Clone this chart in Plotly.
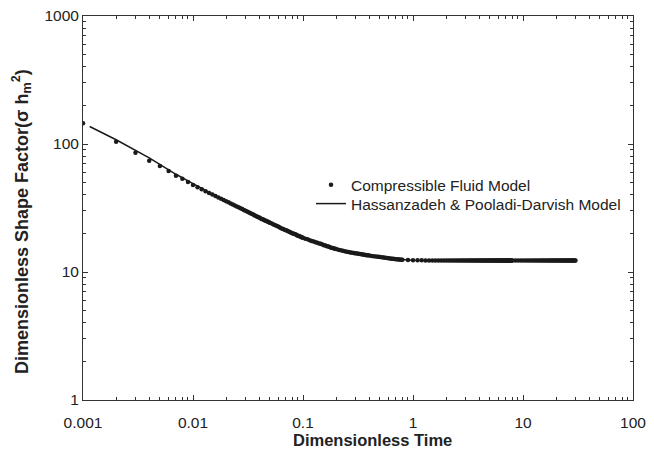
import plotly.graph_objects as go

# ---- data ----
dot_t = [
    0.001, 0.002, 0.003, 0.004, 0.005, 0.006, 0.007, 0.008, 0.009, 0.010,
    0.011, 0.012, 0.013, 0.014, 0.015, 0.016, 0.017, 0.018, 0.019, 0.020,
    0.021, 0.022, 0.023, 0.024, 0.025, 0.026, 0.027, 0.028, 0.029, 0.030,
    0.031, 0.032, 0.033, 0.034, 0.035, 0.036, 0.037, 0.038, 0.039, 0.040,
    0.041, 0.042, 0.043, 0.044, 0.045, 0.046, 0.047, 0.048, 0.049, 0.050,
    0.052, 0.054, 0.056, 0.058, 0.060, 0.062, 0.064, 0.066, 0.068, 0.070,
    0.072, 0.074, 0.076, 0.078, 0.080, 0.082, 0.084, 0.086, 0.088, 0.090,
    0.092, 0.094, 0.096, 0.098, 0.100,
    0.105, 0.110, 0.115, 0.120, 0.125, 0.130, 0.135, 0.140, 0.145, 0.150,
    0.155, 0.160, 0.165, 0.170, 0.175, 0.180, 0.185, 0.190, 0.195, 0.200,
    0.21, 0.22, 0.23, 0.24, 0.25, 0.26, 0.27, 0.28, 0.29, 0.30,
    0.31, 0.32, 0.33, 0.34, 0.35, 0.36, 0.37, 0.38, 0.39, 0.40,
    0.42, 0.44, 0.46, 0.48, 0.50, 0.52, 0.54, 0.56, 0.58, 0.60,
    0.62, 0.64, 0.66, 0.68, 0.70, 0.72, 0.74, 0.76, 0.78, 0.80,
    0.9, 1.0, 1.1, 1.2, 1.3, 1.4, 1.5, 1.6, 1.7, 1.8, 1.9, 2.0,
    2.1, 2.2, 2.3, 2.4, 2.5, 2.6, 2.7, 2.8, 2.9, 3.0,
    3.1, 3.2, 3.3, 3.4, 3.5, 3.6, 3.7, 3.8, 3.9, 4.0,
    4.1, 4.2, 4.3, 4.4, 4.5, 4.6, 4.7, 4.8, 4.9, 5.0,
    5.1, 5.2, 5.3, 5.4, 5.5, 5.6, 5.7, 5.8, 5.9, 6.0,
    6.1, 6.2, 6.3, 6.4, 6.5, 6.6, 6.7, 6.8, 6.9, 7.0,
    7.1, 7.2, 7.3, 7.4, 7.5, 7.6, 7.7, 7.8, 7.9, 8.0,
    8.5, 9.0, 9.5, 10.0, 10.5, 11.0, 11.5, 12.0, 12.5, 13.0,
    13.5, 14.0, 14.5, 15.0, 15.5, 16.0, 16.5, 17.0, 17.5, 18.0,
    18.5, 19.0, 19.5, 20.0, 20.5, 21.0, 21.5, 22.0, 22.5, 23.0,
    23.5, 24.0, 24.5, 25.0, 25.5, 26.0, 26.5, 27.0, 27.5, 28.0,
    28.5, 29.0, 29.5, 30.0,
]
dot_s = [
    145, 104, 85.4, 74.0, 67.3, 61.5, 56.5, 53.5, 50.5, 47.8,
    45.9, 44.3, 42.8, 41.5, 40.3, 39.2, 38.2, 37.3, 36.5, 35.7,
    35.0, 34.3, 33.7, 33.1, 32.5, 32.0, 31.5, 31.0, 30.5, 30.1,
    29.7, 29.3, 28.9, 28.5, 28.2, 27.8, 27.5, 27.2, 26.9, 26.6,
    26.3, 26.0, 25.8, 25.6, 25.3, 25.1, 24.9, 24.7, 24.5, 24.3,
    23.9, 23.5, 23.2, 22.9, 22.6, 22.2, 21.9, 21.7, 21.4, 21.2,
    21.0, 20.7, 20.5, 20.3, 20.1, 19.9, 19.8, 19.6, 19.4, 19.2,
    19.1, 18.9, 18.8, 18.6, 18.5,
    18.2, 18.0, 17.7, 17.5, 17.3, 17.1, 16.9, 16.7, 16.6, 16.4,
    16.2, 16.1, 15.9, 15.8, 15.7, 15.5, 15.4, 15.3, 15.2, 15.1,
    14.9, 14.8, 14.65, 14.5, 14.4, 14.3, 14.2, 14.13, 14.06, 13.99,
    13.93, 13.87, 13.81, 13.75, 13.69, 13.64, 13.59, 13.54, 13.49, 13.44,
    13.36, 13.29, 13.22, 13.15, 13.09, 13.02, 12.97, 12.91, 12.85, 12.8,
    12.75, 12.71, 12.67, 12.63, 12.6, 12.57, 12.54, 12.51, 12.49, 12.46,
    12.42, 12.38, 12.35, 12.33, 12.31, 12.3, 12.3, 12.3, 12.3, 12.3, 12.3, 12.3,
    12.3, 12.3, 12.3, 12.3, 12.3, 12.3, 12.3, 12.3, 12.3, 12.3,
    12.3, 12.3, 12.3, 12.3, 12.3, 12.3, 12.3, 12.3, 12.3, 12.3,
    12.3, 12.3, 12.3, 12.3, 12.3, 12.3, 12.3, 12.3, 12.3, 12.3,
    12.3, 12.3, 12.3, 12.3, 12.3, 12.3, 12.3, 12.3, 12.3, 12.3,
    12.3, 12.3, 12.3, 12.3, 12.3, 12.3, 12.3, 12.3, 12.3, 12.3,
    12.3, 12.3, 12.3, 12.3, 12.3, 12.3, 12.3, 12.3, 12.3, 12.3,
    12.3, 12.3, 12.3, 12.3, 12.3, 12.3, 12.3, 12.3, 12.3, 12.3,
    12.3, 12.3, 12.3, 12.3, 12.3, 12.3, 12.3, 12.3, 12.3, 12.3,
    12.3, 12.3, 12.3, 12.3, 12.3, 12.3, 12.3, 12.3, 12.3, 12.3,
    12.3, 12.3, 12.3, 12.3, 12.3, 12.3, 12.3, 12.3, 12.3, 12.3,
    12.3, 12.3, 12.3, 12.3,
]

model_t = [0.00115, 0.002, 0.004, 0.007, 0.01, 0.02, 0.04, 0.07, 0.1, 0.2, 0.4, 0.7, 1.0, 2.0, 5.0, 10.0, 30.0]
model_s = [137, 108, 78, 58, 49, 35.7, 26.6, 21.2, 18.5, 15.1, 13.44, 12.6, 12.38, 12.3, 12.3, 12.3, 12.3]

x_tickvals = [0.001, 0.01, 0.1, 1, 10, 100]
x_ticktext = ["0.001", "0.01", "0.1", "1", "10", "100"]
y_tickvals = [1, 10, 100, 1000]
y_ticktext = ["1", "10", "100", "1000"]

FONT = "Arial, 'Liberation Sans', sans-serif"
INK = "#1a1a1a"
TXT = "#222"

# The page body has an 8px default margin, so the figure is placed at (8, 8)
OFF = 8
W, H = 654 - OFF, 457 - OFF
# target plot box in page pixels: x 83..633, y 15.5..400.5
ML = 83 - OFF
MR = W - (633 - OFF)
MT = 15.5 - OFF
MB = H - (400.5 - OFF)
PW, PH = W - ML - MR, H - MT - MB

def px_to_paper_x(px):  # page pixel -> paper coordinate
    return (px - OFF - ML) / PW

def px_to_paper_y(py):
    return (H - MB - (py - OFF)) / PH

fig = go.Figure()
fig.add_trace(go.Scatter(
    x=model_t, y=model_s, mode="lines",
    line=dict(color=INK, width=1.5),
    name="Hassanzadeh & Pooladi-Darvish Model",
    legend="legend2",
))
fig.add_trace(go.Scatter(
    x=dot_t, y=dot_s, mode="markers",
    marker=dict(size=4.5, color=INK, line=dict(width=0)),
    name="Compressible Fluid Model",
    legend="legend",
))

axis_common = dict(
    type="log",
    showgrid=False, zeroline=False, automargin=False,
    showline=True, linecolor="#333", linewidth=1,
    ticks="inside", ticklen=5, tickcolor="#333", tickwidth=1,
    mirror="ticks",
    tickfont=dict(family=FONT, size=15.5, color=TXT),
    ticklabeloverflow="allow",
    minor=dict(ticks="inside", ticklen=3, tickcolor="#333", dtick="D1", showgrid=False),
)

leg_common = dict(
    xanchor="left", yanchor="middle",
    bgcolor="rgba(0,0,0,0)", borderwidth=0,
    font=dict(family=FONT, size=15.5, color=TXT),
    itemwidth=30,
)

fig.update_layout(
    width=W, height=H,
    margin=dict(l=ML, r=MR, t=MT, b=MB, pad=0),
    paper_bgcolor="white", plot_bgcolor="white",
    font=dict(family=FONT, color=TXT),
    xaxis=dict(axis_common, range=[-3, 2], ticklabelstandoff=8,
               tickmode="array", tickvals=x_tickvals, ticktext=x_ticktext),
    yaxis=dict(axis_common, range=[0, 3],
               tickmode="array", tickvals=y_tickvals, ticktext=y_ticktext),
    legend=dict(leg_common, x=px_to_paper_x(311), y=px_to_paper_y(185)),
    legend2=dict(leg_common, x=px_to_paper_x(311), y=px_to_paper_y(204)),
    showlegend=True,
    annotations=[
        dict(text="<b>Dimensionless Time</b>", xref="paper", yref="paper",
             x=px_to_paper_x(372), y=px_to_paper_y(441), xanchor="center", yanchor="middle",
             showarrow=False, font=dict(family=FONT, size=16.5, color=TXT)),
        dict(text="<b>Dimensionless Shape Factor(σ h<sub>m</sub><sup>2</sup>)</b>",
             xref="paper", yref="paper",
             x=px_to_paper_x(22), y=px_to_paper_y(222), xanchor="center", yanchor="middle",
             textangle=-90, showarrow=False, font=dict(family=FONT, size=18, color=TXT)),
    ],
)

fig.write_html("out.html")
